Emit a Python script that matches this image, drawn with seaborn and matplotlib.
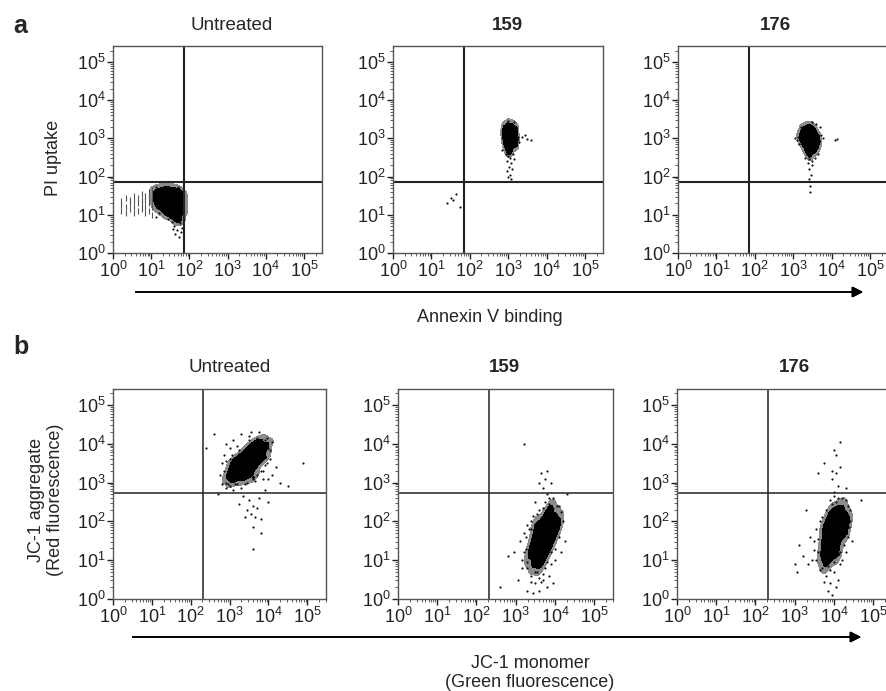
import numpy as np
import matplotlib.pyplot as plt
import seaborn as sns
from matplotlib.colors import ListedColormap
from matplotlib.ticker import LogLocator, NullFormatter

sns.set_theme(style="ticks")
plt.rcParams['font.family'] = ['Liberation Sans', 'DejaVu Sans']
plt.rcParams['mathtext.default'] = 'regular'

# event positions, as log10(intensity)
# "core" = the dense part of each cloud, "sparse" = scattered single events
a_untreated_core = [(1.1, 1.6), (1.25, 1.65), (1.4, 1.68), (1.55, 1.66), (1.7, 1.62), (1.8, 1.55),
                    (1.08, 1.4), (1.22, 1.45), (1.38, 1.5), (1.52, 1.45), (1.66, 1.42), (1.8, 1.38),
                    (1.15, 1.2), (1.3, 1.25), (1.45, 1.28), (1.6, 1.22), (1.72, 1.2), (1.82, 1.15),
                    (1.35, 1.05), (1.5, 1.02), (1.62, 0.98), (1.75, 0.95), (1.68, 0.85)]
a_untreated_streaks = [(0.2, 1.25), (0.2, 1.1), (0.2, 1.35), (0.33, 1.45), (0.33, 1.2), (0.33, 1.05),
                       (0.45, 1.4), (0.45, 1.3), (0.45, 1.15), (0.55, 1.5), (0.55, 1.35), (0.55, 1.2),
                       (0.55, 1.05), (0.65, 1.45), (0.65, 1.3), (0.65, 1.1), (0.75, 1.55), (0.75, 1.4),
                       (0.75, 1.25), (0.75, 1.15), (0.85, 1.5), (0.85, 1.35), (0.85, 1.2), (0.85, 1.05),
                       (0.95, 1.6), (0.95, 1.45), (0.95, 1.3), (0.95, 1.1), (1.02, 1.65), (1.02, 1.5),
                       (1.02, 1.35), (1.02, 1.2), (1.02, 1.0)]
a_untreated_sparse = [(1.12, 1.72), (1.12, 0.95), (1.6, 0.72), (1.68, 0.6), (1.75, 0.78), (1.62, 0.5),
                      (1.8, 0.66), (1.55, 0.8), (1.72, 0.42), (1.45, 1.74), (1.3, 1.73), (1.7, 1.74),
                      (1.84, 1.4), (1.84, 1.0), (1.45, 0.9), (1.58, 0.62), (1.78, 0.55), (1.2, 1.05)]

a_159_core = [(2.9, 3.3), (3.0, 3.38), (3.1, 3.35), (3.2, 3.28),
              (2.88, 3.15), (2.98, 3.2), (3.08, 3.18), (3.2, 3.12),
              (2.9, 3.0), (3.0, 3.02), (3.1, 3.0), (3.22, 2.98),
              (2.92, 2.85), (3.02, 2.88), (3.12, 2.85), (3.2, 2.82),
              (2.97, 2.72), (3.07, 2.7), (3.02, 2.65)]
a_159_sparse = [(3.0, 2.55), (3.05, 2.5), (2.98, 2.4), (3.07, 2.35), (3.02, 2.25), (3.1, 2.2),
                (2.97, 2.15), (3.05, 2.05), (3.08, 1.95), (3.0, 2.0), (3.12, 2.6), (2.95, 2.6),
                (3.26, 3.05), (3.27, 2.9), (2.84, 3.0), (3.15, 3.42), (3.0, 3.45), (3.35, 3.05),
                (3.45, 3.1), (3.5, 2.98), (3.6, 2.95), (1.4, 1.3), (1.5, 1.45), (1.55, 1.4),
                (1.65, 1.55), (1.75, 1.2), (2.85, 2.7), (3.15, 2.45)]

a_176_core = [(3.25, 3.25), (3.35, 3.3), (3.45, 3.32), (3.55, 3.25),
              (3.18, 3.1), (3.3, 3.12), (3.42, 3.15), (3.55, 3.1), (3.65, 3.05),
              (3.2, 2.95), (3.32, 2.98), (3.44, 3.0), (3.56, 2.95), (3.66, 2.92),
              (3.28, 2.82), (3.4, 2.85), (3.52, 2.8), (3.62, 2.78),
              (3.35, 2.68), (3.45, 2.65), (3.55, 2.68), (3.42, 2.55)]
a_176_sparse = [(3.12, 3.05), (3.1, 2.95), (3.15, 2.85), (3.72, 3.1), (3.7, 3.3), (3.6, 3.38),
                (3.5, 3.42), (3.4, 2.45), (3.48, 2.4), (3.38, 2.35), (3.5, 2.3), (3.42, 2.2),
                (3.47, 2.05), (3.4, 1.95), (3.44, 1.75), (3.3, 2.5), (3.58, 2.5), (4.1, 2.95),
                (4.15, 2.98), (3.05, 3.0), (3.78, 3.0), (3.65, 2.6), (3.2, 3.3), (3.45, 1.6)]

b_untreated_core = [(2.98, 3.15), (3.05, 3.3), (3.1, 3.05), (3.15, 3.45), (3.2, 3.2), (3.25, 3.6),
                    (3.3, 3.35), (3.35, 3.1), (3.38, 3.75), (3.42, 3.5), (3.48, 3.25), (3.52, 3.9),
                    (3.55, 3.65), (3.6, 3.4), (3.65, 4.0), (3.7, 3.78), (3.75, 3.55), (3.8, 4.05),
                    (3.85, 3.85), (3.9, 3.65), (3.95, 3.95), (3.1, 3.55), (3.6, 3.15)]
b_untreated_sparse = [(2.75, 3.2), (2.8, 3.5), (2.85, 3.7), (2.9, 3.0), (2.9, 2.85), (3.0, 2.9),
                      (3.1, 2.8), (3.2, 2.95), (3.3, 2.85), (3.45, 3.0), (3.6, 3.1), (3.7, 3.2),
                      (3.85, 3.3), (3.95, 3.5), (4.0, 3.9), (4.05, 3.6), (4.1, 3.2), (4.2, 3.4),
                      (3.9, 4.1), (3.7, 4.15), (3.5, 4.2), (3.3, 4.25), (3.1, 4.1), (3.0, 3.9),
                      (2.9, 4.0), (3.55, 4.3), (4.3, 3.0), (4.5, 2.9), (4.9, 3.5), (2.6, 4.25),
                      (2.4, 3.9), (3.35, 2.65), (3.5, 2.55), (3.6, 2.4), (3.45, 2.3), (3.7, 2.35),
                      (3.55, 2.2), (3.65, 2.1), (3.8, 2.05), (3.4, 2.1), (3.75, 2.6), (3.9, 2.8),
                      (3.6, 1.85), (3.8, 1.7), (3.6, 1.3), (4.0, 2.5), (3.25, 2.45), (2.7, 2.7),
                      (2.85, 3.3), (2.9, 3.55), (2.95, 2.95), (3.05, 3.7), (3.15, 2.95), (3.25, 3.85),
                      (3.4, 2.95), (3.5, 4.1), (3.65, 3.05), (3.8, 3.3), (3.9, 3.45), (4.05, 3.85),
                      (4.1, 4.05), (3.95, 4.15), (3.75, 4.3), (3.2, 3.95), (3.0, 3.6), (2.8, 2.95),
                      (4.0, 3.1), (3.85, 3.1)]

b_159_core = [(3.35, 1.1), (3.4, 1.35), (3.45, 0.9), (3.5, 1.6), (3.55, 1.2), (3.6, 1.8), (3.62, 0.85),
              (3.65, 1.45), (3.7, 2.0), (3.75, 1.1), (3.78, 1.7), (3.82, 2.2), (3.85, 1.35), (3.9, 1.9),
              (3.95, 1.55), (4.0, 2.15), (4.05, 1.8), (4.1, 2.0), (3.5, 1.9), (3.7, 1.25), (3.88, 2.3),
              (3.58, 1.05)]
b_159_sparse = [(3.3, 0.8), (3.4, 0.6), (3.5, 0.4), (3.6, 0.2), (3.7, 0.5), (3.8, 0.3), (3.45, 0.15),
                (3.85, 0.6), (3.55, 0.7), (3.65, 0.45), (3.75, 0.8), (3.9, 0.9), (3.25, 1.3),
                (3.15, 1.0), (3.1, 1.5), (3.05, 0.5), (2.95, 1.2), (2.8, 1.1), (2.6, 0.3),
                (3.2, 1.7), (3.3, 1.9), (3.4, 2.0), (3.55, 2.2), (3.7, 2.35), (3.85, 2.45),
                (3.95, 2.6), (3.8, 2.7), (3.7, 2.85), (3.75, 3.1), (3.65, 3.25), (3.8, 3.3),
                (3.6, 3.0), (3.9, 3.0), (3.2, 4.0), (4.1, 2.4), (4.2, 2.0), (4.25, 1.5),
                (4.15, 1.2), (4.0, 1.0), (4.3, 2.7), (3.5, 2.5), (3.4, 1.8), (3.95, 0.4), (3.3, 0.2),
                (3.25, 1.6), (3.3, 0.95), (3.35, 1.8), (3.45, 2.15), (3.5, 0.7), (3.6, 2.3),
                (3.7, 0.65), (3.8, 0.95), (3.9, 1.2), (4.0, 1.3), (4.1, 1.6), (4.15, 2.25),
                (4.05, 2.4), (3.95, 2.35), (3.2, 1.2), (3.15, 0.8), (3.4, 0.45), (3.6, 0.55),
                (3.75, 2.5), (3.85, 2.6)]

b_176_core = [(3.7, 1.1), (3.72, 1.4), (3.78, 0.9), (3.8, 1.65), (3.85, 1.25), (3.88, 1.9), (3.92, 1.05),
              (3.95, 1.5), (3.98, 2.1), (4.02, 1.3), (4.05, 1.75), (4.08, 2.3), (4.12, 1.55), (4.15, 2.0),
              (4.2, 1.8), (4.22, 2.35), (4.28, 2.1), (4.3, 1.7), (3.9, 2.2), (4.1, 1.15), (4.35, 2.0),
              (3.75, 1.85)]
b_176_sparse = [(3.6, 1.2), (3.5, 1.5), (3.45, 1.0), (3.35, 0.9), (3.1, 1.4), (3.0, 0.9), (3.05, 0.7),
                (3.2, 1.1), (3.55, 1.8), (3.65, 2.0), (3.7, 0.8), (3.8, 0.6), (3.9, 0.4), (4.0, 0.7),
                (3.85, 0.2), (3.95, 0.1), (4.1, 0.5), (4.15, 0.9), (3.75, 0.45), (4.05, 0.3),
                (4.3, 1.2), (4.35, 1.6), (4.4, 2.0), (4.35, 2.4), (4.2, 2.6), (4.05, 2.5),
                (3.9, 2.55), (4.0, 2.75), (4.1, 2.9), (3.95, 3.1), (4.05, 3.25), (4.15, 3.4),
                (3.95, 3.3), (4.05, 3.7), (4.0, 3.85), (4.15, 4.05), (3.75, 3.5), (3.6, 3.25),
                (4.7, 2.55), (3.3, 2.3), (4.3, 2.85), (3.6, 1.55), (3.55, 1.0), (3.65, 0.75),
                (3.7, 2.1), (3.8, 2.3), (3.9, 0.75), (4.0, 0.95), (4.15, 1.2), (4.25, 1.4),
                (4.38, 1.85), (4.4, 2.3), (4.3, 2.55), (4.1, 2.6), (3.95, 2.45), (3.85, 0.85),
                (4.2, 1.0), (3.5, 1.25), (3.4, 1.6), (4.45, 1.5), (4.0, 2.65)]

panel_titles = ['Untreated', '159', '176']
gate_a = (1.85, 1.87)   # log10 quadrant gate (x, y), Annexin V / PI
gate_b = (2.32, 2.72)   # log10 quadrant gate (x, y), JC-1

W, H = 886, 691
fig = plt.figure(figsize=(W / 100, H / 100), dpi=100)
edge_map = ListedColormap(['#8c8c8c'])   # speckled rim of a cloud
core_map = ListedColormap(['#000000'])   # solid centre of a cloud


def px_rect(left, top, right, bottom):
    return [left / W, 1 - bottom / H, (right - left) / W, (bottom - top) / H]


def draw_panel(rect, core, sparse, gate, xmax, ymax, gate_lw, streaks=None):
    ax = fig.add_axes(rect)
    core = np.array(core)
    sparse = np.array(sparse)
    cx, cy = 10 ** core[:, 0], 10 ** core[:, 1]
    # dense part of the cloud as filled density (grey rim, black centre), then single events
    sns.kdeplot(x=cx, y=cy, ax=ax, log_scale=True, fill=True,
                levels=[0.06, 1], cmap=edge_map, bw_adjust=0.7)
    sns.kdeplot(x=cx, y=cy, ax=ax, log_scale=True, fill=True,
                levels=[0.25, 1], cmap=core_map, bw_adjust=0.7)
    sns.scatterplot(x=cx, y=cy, ax=ax, s=5, color='black', linewidth=0)
    sns.scatterplot(x=10 ** sparse[:, 0], y=10 ** sparse[:, 1], ax=ax, s=2.5,
                    color='#111111', linewidth=0)
    if streaks is not None:
        streaks = np.array(streaks)
        sns.scatterplot(x=10 ** streaks[:, 0], y=10 ** streaks[:, 1], ax=ax, s=14,
                        marker='|', color='#555555', linewidth=0.8)
    ax.set_xscale('log')
    ax.set_yscale('log')
    ax.set_xlim(1, 10 ** xmax)
    ax.set_ylim(1, 10 ** ymax)
    ax.axvline(10 ** gate[0], color='#222222', lw=gate_lw)
    ax.axhline(10 ** gate[1], color='#222222', lw=gate_lw)
    for axis in (ax.xaxis, ax.yaxis):
        axis.set_major_locator(LogLocator(base=10, numticks=10))
        axis.set_minor_locator(LogLocator(base=10, subs=np.arange(2, 10), numticks=100))
        axis.set_minor_formatter(NullFormatter())
    ax.tick_params(which='major', direction='out', length=4, width=1, labelsize=13, pad=1.5,
                   colors='#222222')
    ax.tick_params(which='minor', direction='out', length=2, width=0.6, color='#444444')
    for sp in ax.spines.values():
        sp.set_color('#555555')
        sp.set_linewidth(1)
    ax.set_xlabel('')
    ax.set_ylabel('')
    return ax


top_x = [(113, 322), (393, 603), (678, 888)]
bot_x = [(113, 326), (398, 613), (677, 892)]
top_data = [(a_untreated_core, a_untreated_sparse, a_untreated_streaks),
            (a_159_core, a_159_sparse, None), (a_176_core, a_176_sparse, None)]
bot_data = [(b_untreated_core, b_untreated_sparse), (b_159_core, b_159_sparse), (b_176_core, b_176_sparse)]

for (l, r), (c, s, st) in zip(top_x, top_data):
    draw_panel(px_rect(l, 46, r, 253), c, s, gate_a, 5.47, 5.42, 1.5, streaks=st)
for (l, r), (c, s) in zip(bot_x, bot_data):
    draw_panel(px_rect(l, 389, r, 599), c, s, gate_b, 5.48, 5.41, 1.1)

# panel titles
top_tx = [232, 507, 775]
bot_tx = [230, 504, 794]
for i, t in enumerate(panel_titles):
    w = 'normal' if i == 0 else 'bold'
    fig.text(top_tx[i] / W, 1 - 25 / H, t, ha='center', va='center', fontsize=13.5, fontweight=w)
    fig.text(bot_tx[i] / W, 1 - 368 / H, t, ha='center', va='center', fontsize=13.5, fontweight=w)

fig.text(20 / W, 1 - 26 / H, 'a', ha='center', va='center', fontsize=18, fontweight='bold')
fig.text(21 / W, 1 - 347 / H, 'b', ha='center', va='center', fontsize=18, fontweight='bold')

fig.text(53 / W, 1 - 158 / H, 'PI uptake', rotation=90, ha='center', va='center', fontsize=13)
fig.text(46 / W, 1 - 500 / H, 'JC-1 aggregate\n(Red fluorescence)', rotation=90,
         ha='center', va='center', fontsize=13, linespacing=1.1)

# axis arrows
fig.add_artist(plt.annotate('', xy=(866 / W, 1 - 292 / H), xytext=(133 / W, 1 - 292 / H),
                            xycoords='figure fraction', textcoords='figure fraction',
                            arrowprops=dict(arrowstyle='-|>', color='black', lw=1.2,
                                            mutation_scale=16)))
fig.add_artist(plt.annotate('', xy=(864 / W, 1 - 637 / H), xytext=(130 / W, 1 - 637 / H),
                            xycoords='figure fraction', textcoords='figure fraction',
                            arrowprops=dict(arrowstyle='-|>', color='black', lw=1.2,
                                            mutation_scale=16)))
fig.text(490 / W, 1 - 318 / H, 'Annexin V binding', ha='center', va='center', fontsize=13)
fig.text(530 / W, 1 - 673 / H, 'JC-1 monomer\n(Green fluorescence)', ha='center', va='center',
         fontsize=13, linespacing=1.15)

fig.savefig('out.png', dpi=100)
